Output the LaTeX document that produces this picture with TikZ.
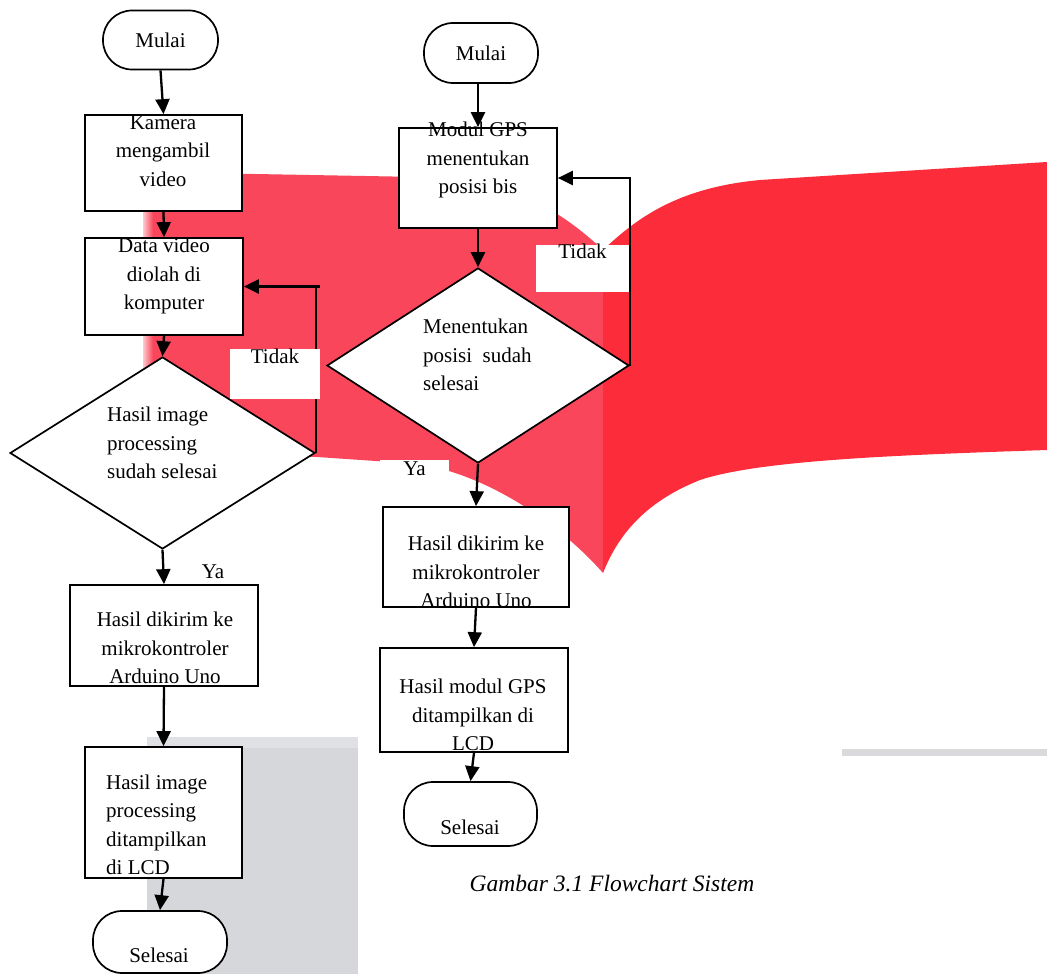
\documentclass[tikz,border=0pt]{standalone}
\usepackage{fontspec}
\setmainfont{Liberation Serif}
\usetikzlibrary{arrows.meta,shapes.geometric}
\definecolor{redA}{RGB}{250,70,90}
\definecolor{redB}{RGB}{252,44,58}
\definecolor{grayA}{RGB}{213,215,219}
\definecolor{grayB}{RGB}{224,225,228}
\definecolor{grayC}{RGB}{218,218,221}
\begin{document}
\begin{tikzpicture}[x=1pt,y=-1pt,
  txt/.style={font=\fontsize{21}{28.5}\selectfont, inner sep=0pt},
  procbox/.style={draw, fill=white, line width=1.7pt, inner sep=0pt},
  term/.style={draw, fill=white, line width=1.7pt, inner sep=0pt, rounded corners=29pt, font=\fontsize{21}{28.5}\selectfont},
  decis/.style={draw, fill=white, line width=1.7pt, diamond, inner sep=0pt},
  flow/.style={line width=2.3pt, -{Triangle[length=15pt,width=14pt]}},
  plainline/.style={line width=2.3pt},
  tag/.style={fill=white, inner sep=0pt, anchor=base, font=\fontsize{21}{28.5}\selectfont}]
\useasboundingbox (0,0) rectangle (1047,974);
% background
\fill[white] (0,0) rectangle (1047,974);
\fill[redA] (145,172) -- (420,177) .. controls (505,179) and (555,205) .. (603,250) -- (603,573)
  .. controls (570,535) and (500,478) .. (420,464) -- (317,457) -- (145,455) -- cycle;
\shade[left color=redA!30!white, right color=redA] (143,172) rectangle (153,455);
\fill[redB] (603,250) .. controls (635,220) and (675,188) .. (760,180) -- (1047,162) -- (1047,450)
  .. controls (900,455) and (760,460) .. (700,480) .. controls (650,500) and (620,530) .. (603,573) -- cycle;
\fill[grayA] (147,737) rectangle (358,974);
\fill[grayB] (147,737) rectangle (358,748);
\fill[grayC] (842,749) rectangle (1047,756);

% left column
\node[term, minimum width=115pt, minimum height=59pt] (sL) at (160.5,40) {Mulai};
\node[procbox, minimum width=157pt, minimum height=96pt] (b1) at (163.5,163) {};
\node[txt, align=center] (b1t) at (163,151) {Kamera\\mengambil\\video};
\node[procbox, minimum width=158pt, minimum height=97pt] (b2) at (164,286.5) {};
\node[txt, align=center] (b2t) at (164,276) {Data video\\diolah di\\komputer};
\node[decis, minimum width=305pt, minimum height=192pt] (d1) at (162.5,453) {};
\node[txt, align=left, anchor=west] (d1t) at (107,443) {Hasil image\\processing\\sudah selesai};
\node[procbox, minimum width=188pt, minimum height=101pt] (b3) at (164,635.5) {};
\node[txt, align=center] (b3t) at (165,648) {Hasil dikirim ke\\mikrokontroler\\Arduino Uno};
\node[procbox, minimum width=157pt, minimum height=131pt] (b4) at (163.5,812.5) {};
\node[txt, align=left, anchor=west] (b4t) at (106,825) {Hasil image\\processing\\ditampilkan\\di LCD};
\node[term, minimum width=134pt, minimum height=62pt] (eL) at (160,942) {};
\node[txt] (eLt) at (159,955) {Selesai};

% right column
\node[term, minimum width=114pt, minimum height=60pt] (sR) at (481,53) {Mulai};
\node[procbox, minimum width=158pt, minimum height=100pt] (r1) at (478,178) {};
\node[txt, align=center] (r1t) at (478,160) {Modul GPS\\menentukan\\posisi bis};
\node[decis, minimum width=302pt, minimum height=195pt] (d2) at (478,365.5) {};
\node[txt, align=left, anchor=west] (d2t) at (423,355) {Menentukan\\posisi\ \ sudah\\selesai};
\node[procbox, minimum width=186pt, minimum height=100pt] (r2) at (476,557) {};
\node[txt, align=center] (r2t) at (476,572) {Hasil dikirim ke\\mikrokontroler\\Arduino Uno};
\node[procbox, minimum width=188pt, minimum height=104pt] (r3) at (474,700) {};
\node[txt, align=center] (r3t) at (473,715) {Hasil modul GPS\\ditampilkan di\\LCD};
\node[term, minimum width=133pt, minimum height=64pt] (eR) at (470.5,814) {};
\node[txt] (eRt) at (470,827) {Selesai};

% connectors left
\draw[flow] (sL.south) -- (b1.north);
\draw[flow] (b1.south) -- (b2.north);
\draw[flow] (b2.south) -- (d1.north);
\draw[flow] (d1.south) -- (b3.north);
\draw[flow] (b3.south) -- (b4.north);
\draw[flow] (b4.south) -- (eL.north);
\coordinate (lstub) at (320,286.5);
\draw[plainline] (d1.east) -- (d1.east |- b2.east);
\draw[flow] (lstub) -- (b2.east);

% connectors right
\draw[flow] (r1.north |- sR.south) -- (r1.north);
\draw[flow] (r1.south) -- (d2.north);
\draw[flow] (d2.south) -- (r2.north);
\draw[flow] (r2.south) -- (r3.north);
\draw[flow] (r3.south) -- (eR.north);
\draw[flow] (d2.east) |- (r1.east);

% labels
\node[tag, minimum width=90pt, text height=14pt, text depth=36pt] (tidakL) at (275,363) {Tidak};
\node[tag, fill=none] (yaL) at (213,578) {Ya};
\node[tag, minimum width=93pt, text height=13pt, text depth=34pt] (tidakR) at (582.5,258) {Tidak};
\node[tag, minimum width=69pt, text height=15pt, text depth=13pt] (yaR) at (414.5,475) {Ya};

% caption
\node[inner sep=0pt, font=\itshape\fontsize{23.5}{28}\selectfont] (cap) at (612,884) {Gambar 3.1 Flowchart Sistem};
\end{tikzpicture}
\end{document}
